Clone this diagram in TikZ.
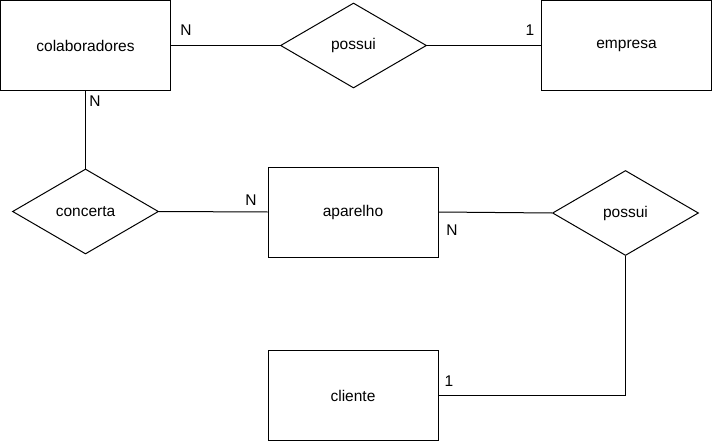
\documentclass[tikz,border=0pt]{standalone}
\usepackage{fontspec}
\setmainfont{Liberation Sans}
\usetikzlibrary{shapes.geometric,positioning}

\begin{document}
\begin{tikzpicture}[x=1pt,y=-1pt]
	\tikzset{
		entidade/.style={draw,line width=1pt,minimum width=170pt,minimum height=90pt,inner sep=0pt,font=\fontsize{15.5}{18}\selectfont},
		relacao/.style={draw,diamond,line width=1pt,minimum width=146pt,minimum height=85pt,inner sep=0pt,font=\fontsize{15.5}{18}\selectfont},
		cardinal/.style={inner sep=0pt,font=\fontsize{15.5}{18}\selectfont},
		ligacao/.style={line width=1pt}
	}
	\useasboundingbox (0,0) rectangle (712,441);
	%%% entidades
	\node[entidade] (colab) at (85.5,45.5) {colaboradores};
	\node[entidade] (empresa) at (626.5,45.5) {empresa};
	\node[entidade] (aparelho) at (353,212) {aparelho};
	\node[entidade] (cliente) at (353,395.5) {cliente};
	%%% relacionamentos
	\node[relacao] (possuiA) at (353.5,45.5) {possui};
	\node[relacao] (concerta) at (85.5,211.5) {concerta};
	\node[relacao] (possuiB) at (625.5,213) {possui};
	%%% ligacoes
	\draw[ligacao] (colab.east) -- (possuiA.west);
	\draw[ligacao] (possuiA.east) -- (empresa.west);
	\draw[ligacao] (colab.south) -- (concerta.north);
	\draw[ligacao] (concerta.east) -- (aparelho.west);
	\draw[ligacao] (aparelho.east) -- (possuiB.west);
	\draw[ligacao] (possuiB.south) |- (cliente.east);
	%%% cardinalidades
	\node[cardinal] (cardA) at (186,30) {N};
	\node[cardinal] (cardB) at (530,30) {1};
	\node[cardinal] (cardC) at (95,101) {N};
	\node[cardinal] (cardD) at (251,200) {N};
	\node[cardinal] (cardE) at (452,230) {N};
	\node[cardinal] (cardF) at (449,381) {1};
\end{tikzpicture}
\end{document}
